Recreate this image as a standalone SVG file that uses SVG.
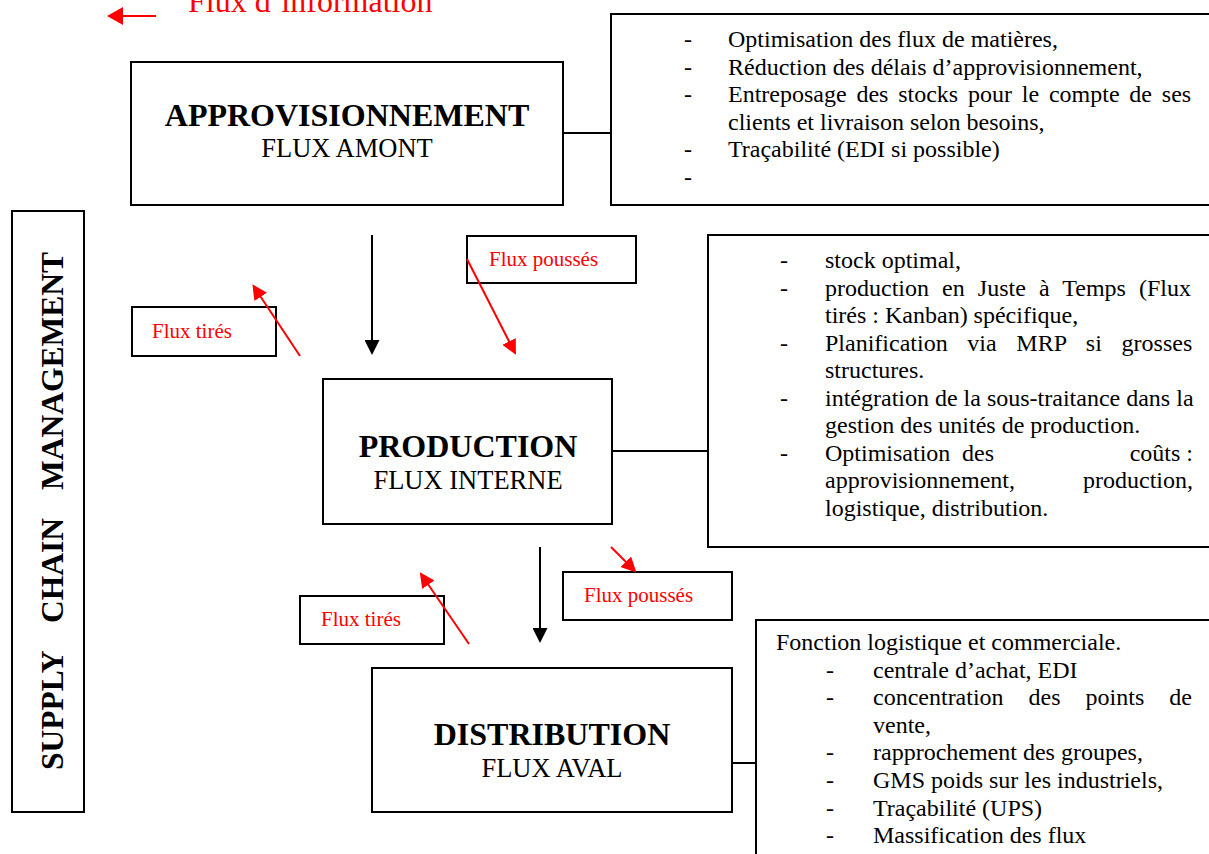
<svg xmlns="http://www.w3.org/2000/svg" width="1209" height="854" viewBox="0 0 1209 854">
<style>
  .box { fill: #ffffff; stroke: #000000; stroke-width: 2; }
  .link { stroke: #000000; stroke-width: 2; fill: none; }
  .flow { stroke: #000000; stroke-width: 2; fill: none; }
  .rflow { stroke: #ff0000; stroke-width: 2; fill: none; }
  .title { font-family: "Liberation Serif", "Times New Roman", serif; font-weight: bold; font-size: 32px; fill: #000; text-anchor: middle; }
  .sub { font-family: "Liberation Serif", "Times New Roman", serif; font-size: 26.5px; fill: #000; text-anchor: middle; }
  .body { font-family: "Liberation Serif", "Times New Roman", serif; font-size: 24px; fill: #000; }
  .red { font-family: "Liberation Serif", "Times New Roman", serif; font-size: 21px; fill: #ff0000; }
  .legend { font-family: "Liberation Serif", "Times New Roman", serif; font-size: 32px; fill: #ff0000; }
  .vert { font-family: "Liberation Serif", "Times New Roman", serif; font-weight: bold; font-size: 31.5px; fill: #000; }
</style>
<defs>
  <marker id="ahBlack" markerUnits="userSpaceOnUse" viewBox="0 0 15 15" refX="13" refY="7.5" markerWidth="15" markerHeight="15" orient="auto">
    <path d="M0,0 L15,7.5 L0,15 Z" fill="#000000"/>
  </marker>
  <marker id="ahRed" markerUnits="userSpaceOnUse" viewBox="0 0 15 15" refX="13" refY="7.5" markerWidth="15" markerHeight="15" orient="auto">
    <path d="M0,0 L15,7.5 L0,15 Z" fill="#ff0000"/>
  </marker>
  <marker id="ahRedBig" markerUnits="userSpaceOnUse" viewBox="0 0 16 18" refX="14" refY="9" markerWidth="16" markerHeight="18" orient="auto">
    <path d="M0,0 L16,9 L0,18 Z" fill="#ff0000"/>
  </marker>
</defs>

<g id="legend">
  <line class="rflow" x1="156" y1="16" x2="109" y2="16" marker-end="url(#ahRedBig)"/>
  <text class="legend" x="188" y="12">Flux d’information</text>
</g>

<g id="supply-chain">
  <rect class="box" x="12" y="211" width="72" height="601"/>
  <text class="vert" transform="translate(62.5,770) rotate(-90)"><tspan x="0" y="0">SUPPLY</tspan><tspan x="147" y="0">CHAIN</tspan><tspan x="280" y="0">MANAGEMENT</tspan></text>
</g>

<g id="approvisionnement">
  <rect class="box" x="131" y="62" width="432" height="143"/>
  <text class="title" x="347" y="126">APPROVISIONNEMENT</text>
  <text class="sub" x="347" y="157">FLUX AMONT</text>
</g>

<g id="approvisionnement-notes">
  <rect class="box" x="611" y="14" width="610" height="191"/>
  <text class="body" x="684" y="47">-</text>
  <text class="body" x="728" y="47">Optimisation des flux de matières,</text>
  <text class="body" x="684" y="74.5">-</text>
  <text class="body" x="728" y="74.5">Réduction des délais d’approvisionnement,</text>
  <text class="body" x="684" y="102">-</text>
  <text class="body" x="728" y="102" word-spacing="3.8">Entreposage des stocks pour le compte de ses</text>
  <text class="body" x="728" y="129.5">clients et livraison selon besoins,</text>
  <text class="body" x="684" y="157">-</text>
  <text class="body" x="728" y="157">Traçabilité (EDI si possible)</text>
  <text class="body" x="684" y="184.5">-</text>
</g>

<g id="flux-pousses-1">
  <rect class="box" x="467" y="236" width="169" height="47"/>
  <text class="red" x="489" y="266">Flux poussés</text>
</g>

<g id="flux-tires-1">
  <rect class="box" x="132" y="307" width="144" height="49"/>
  <text class="red" x="152" y="338">Flux tirés</text>
</g>

<g id="production">
  <rect class="box" x="323" y="379" width="289" height="145"/>
  <text class="title" x="468" y="457">PRODUCTION</text>
  <text class="sub" x="468" y="489">FLUX INTERNE</text>
</g>

<g id="production-notes">
  <rect class="box" x="708" y="235" width="513" height="312"/>
  <text class="body" x="780" y="268">-</text>
  <text class="body" x="825" y="268">stock optimal,</text>
  <text class="body" x="780" y="295.5">-</text>
  <text class="body" x="825" y="295.5" word-spacing="7.1">production en Juste à Temps (Flux</text>
  <text class="body" x="825" y="323">tirés : Kanban) spécifique,</text>
  <text class="body" x="780" y="350.5">-</text>
  <text class="body" x="825" y="350.5" word-spacing="13.7">Planification via MRP si grosses</text>
  <text class="body" x="825" y="378">structures.</text>
  <text class="body" x="780" y="405.5">-</text>
  <text class="body" x="825" y="405.5">intégration de la sous-traitance dans la</text>
  <text class="body" x="825" y="433">gestion des unités de production.</text>
  <text class="body" x="780" y="460.5">-</text>
  <text class="body" x="825" y="460.5">Optimisation</text>
  <text class="body" x="978" y="460.5" text-anchor="middle">des</text>
  <text class="body" x="1193" y="460.5" text-anchor="end">coûts :</text>
  <text class="body" x="825" y="488">approvisionnement,</text>
  <text class="body" x="1193" y="488" text-anchor="end">production,</text>
  <text class="body" x="825" y="515.5">logistique, distribution.</text>
</g>

<g id="flux-pousses-2">
  <rect class="box" x="563" y="572" width="169" height="48"/>
  <text class="red" x="584" y="602">Flux poussés</text>
</g>

<g id="flux-tires-2">
  <rect class="box" x="300" y="596" width="144" height="48"/>
  <text class="red" x="321" y="626">Flux tirés</text>
</g>

<g id="distribution">
  <rect class="box" x="372" y="668" width="360" height="144"/>
  <text class="title" x="552" y="745">DISTRIBUTION</text>
  <text class="sub" x="552" y="777">FLUX AVAL</text>
</g>

<g id="distribution-notes">
  <rect class="box" x="756" y="620" width="465" height="250"/>
  <text class="body" x="776" y="650">Fonction logistique et commerciale.</text>
  <text class="body" x="826" y="677.6">-</text>
  <text class="body" x="873" y="677.6">centrale d’achat, EDI</text>
  <text class="body" x="826" y="705.2">-</text>
  <text class="body" x="873" y="705.2" word-spacing="19">concentration des points de</text>
  <text class="body" x="873" y="732.8">vente,</text>
  <text class="body" x="826" y="760.4">-</text>
  <text class="body" x="873" y="760.4">rapprochement des groupes,</text>
  <text class="body" x="826" y="788">-</text>
  <text class="body" x="873" y="788">GMS poids sur les industriels,</text>
  <text class="body" x="826" y="815.6">-</text>
  <text class="body" x="873" y="815.6">Traçabilité (UPS)</text>
  <text class="body" x="826" y="843.2">-</text>
  <text class="body" x="873" y="843.2">Massification des flux</text>
</g>

<g id="connectors">
  <line class="link" x1="563" y1="133" x2="611" y2="133"/>
  <line class="link" x1="612" y1="451" x2="708" y2="451"/>
  <line class="link" x1="732" y1="763" x2="756" y2="763"/>
  <line class="flow" x1="372" y1="235" x2="372" y2="353" marker-end="url(#ahBlack)"/>
  <line class="flow" x1="540" y1="547" x2="540" y2="641" marker-end="url(#ahBlack)"/>
  <line class="rflow" x1="467" y1="259" x2="515" y2="353" marker-end="url(#ahRed)"/>
  <line class="rflow" x1="300" y1="356" x2="253.5" y2="286" marker-end="url(#ahRed)"/>
  <line class="rflow" x1="611" y1="547" x2="635" y2="571" marker-end="url(#ahRed)"/>
  <line class="rflow" x1="469" y1="644" x2="421" y2="574" marker-end="url(#ahRed)"/>
</g>
</svg>
